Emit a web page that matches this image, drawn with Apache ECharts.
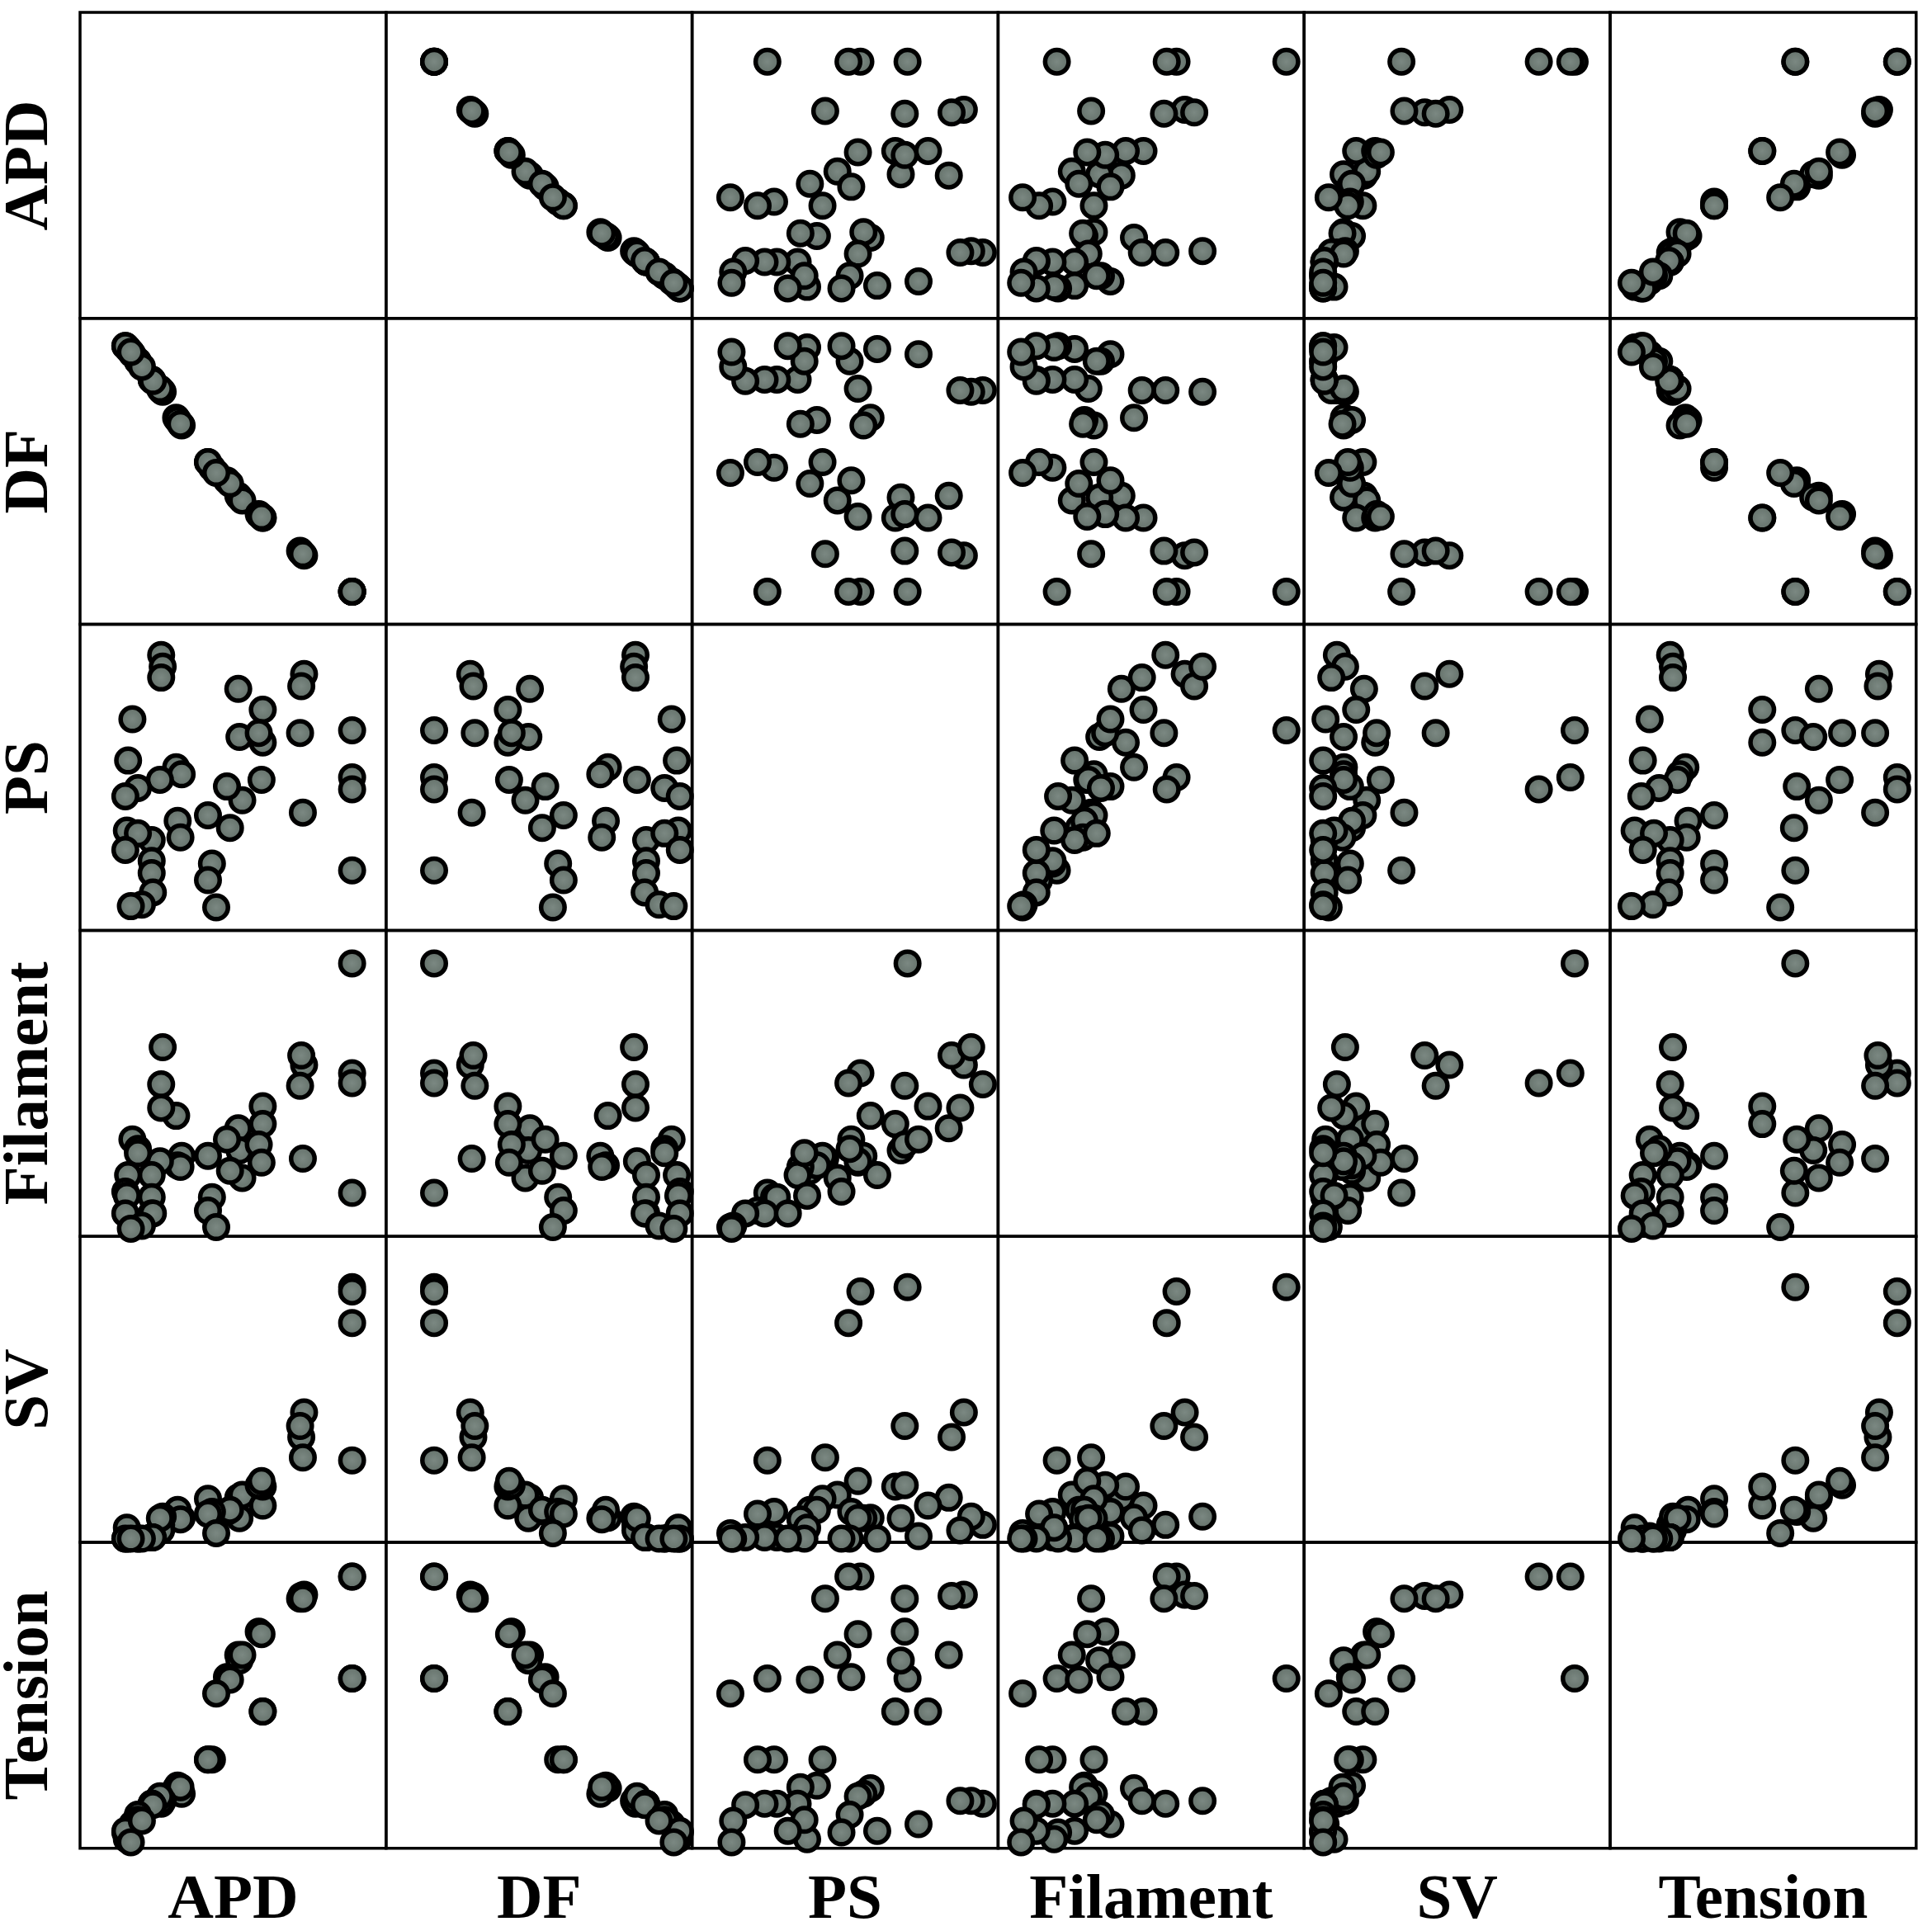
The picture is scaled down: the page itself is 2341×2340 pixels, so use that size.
<!DOCTYPE html>
<html>
<head>
<meta charset="utf-8">
<script src="https://cdn.jsdelivr.net/npm/echarts@6/dist/echarts.min.js"></script>
<style>
html,body{margin:0;padding:0;background:#fff;}
#chart{width:2341px;height:2340px;}
</style>
</head>
<body>
<div id="chart"></div>
<script>
// Variable names (row / column labels)
const variables = ['APD', 'DF', 'PS', 'Filament', 'SV', 'Tension'];

const APD = [0.839,0.839,0.839,0.839, 0.682,0.673,0.669,0.678, 0.467,0.471,0.480, 0.547,0.547,0.534,0.543, 0.430,0.440, 0.368,0.381,0.368,0.395, 0.264,0.282,0.269,0.278, 0.215,0.220,0.215,0.211, 0.184,0.184,0.184,0.188, 0.121,0.107,0.139,0.098,0.103,0.139,0.098,0.152,0.116];
const DF  = [0.107,0.107,0.107,0.107, 0.225,0.235,0.240,0.230, 0.420,0.415,0.405, 0.348,0.348,0.360,0.352, 0.470,0.460, 0.530,0.512,0.530,0.495, 0.675,0.650,0.668,0.655, 0.765,0.760,0.765,0.770, 0.800,0.800,0.800,0.795, 0.883,0.900,0.860,0.910,0.905,0.860,0.910,0.842,0.890];
const PS  = [0.654,0.500,0.461,0.196, 0.838,0.798,0.645,0.385, 0.789,0.632,0.425, 0.721,0.614,0.645,0.492, 0.470,0.335, 0.376,0.218,0.164,0.075, 0.533,0.510,0.358,0.304, 0.900,0.862,0.826,0.492, 0.295,0.227,0.187,0.124, 0.690,0.555,0.465,0.438,0.326,0.317,0.263,0.084,0.079];
const Filament = [0.892,0.533,0.501,0.142, 0.560,0.591,0.492,0.254, 0.353,0.281,0.191, 0.425,0.367,0.300,0.241, 0.317,0.214, 0.263,0.128,0.084,0.030, 0.394,0.263,0.232,0.227, 0.497,0.618,0.420,0.245, 0.200,0.128,0.075,0.075, 0.317,0.200,0.286,0.146,0.133,0.272,0.075,0.034,0.025];
const SV  = [0.834,0.820,0.717,0.268, 0.425,0.344,0.380,0.277, 0.146,0.079,0.155, 0.120,0.182,0.187,0.200, 0.100,0.106, 0.142,0.100,0.093,0.030, 0.080,0.079,0.106,0.075, 0.057,0.084,0.039,0.079, 0.016,0.016,0.016,0.016, 0.020,0.012,0.012,0.012,0.048,0.012,0.012,0.012,0.012];
const Tension = [0.555,0.888,0.888,0.555, 0.829,0.825,0.816,0.816, 0.632,0.614,0.632, 0.447,0.447,0.708,0.700, 0.560,0.551, 0.290,0.290,0.290,0.506, 0.196,0.178,0.205,0.200, 0.146,0.155,0.155,0.170, 0.146,0.146,0.146,0.142, 0.079,0.057,0.110,0.052,0.030,0.093,0.057,0.090,0.020];

const columns = [APD, DF, PS, Filament, SV, Tension];

const chart = echarts.init(document.getElementById('chart'), null, {renderer: 'canvas'});

const N = variables.length;
const left0 = 97, top0 = 15, cell = 370.8;
const grids = [], xAxes = [], yAxes = [], series = [], graphics = [];

const dotFill = {
  type: 'radial', x: 0.5, y: 0.5, r: 0.5,
  colorStops: [{offset: 0, color: '#7b8882'}, {offset: 1, color: '#606d66'}]
};

let gi = 0;
for (let r = 0; r < N; r++) {
  for (let c = 0; c < N; c++) {
    grids.push({
      left: left0 + c * cell, top: top0 + r * cell, width: cell, height: cell,
      show: true, borderColor: '#000', borderWidth: 3.5, backgroundColor: 'transparent'
    });
    const hidden = {show: true, axisLine: {show: false}, axisTick: {show: false}, axisLabel: {show: false}, splitLine: {show: false}};
    xAxes.push(Object.assign({type: 'value', gridIndex: gi, min: -0.05, max: 0.95}, hidden));
    yAxes.push(Object.assign({type: 'value', gridIndex: gi, min: 0, max: 1}, hidden));
    if (r !== c) {
      const xs = columns[c], ys = columns[r];
      const data = xs.map((v, i) => [v, ys[i]]);
      series.push({
        type: 'scatter', xAxisIndex: gi, yAxisIndex: gi, data: data,
        symbol: 'circle', symbolSize: 28.5, clip: false,
        itemStyle: {color: dotFill, borderColor: '#000', borderWidth: 5.5, opacity: 1},
        emphasis: {disabled: true}, silent: true, animation: false
      });
    }
    gi++;
  }
}

const labelFont = 'bold 77px "Liberation Serif", "DejaVu Serif", serif';
for (let k = 0; k < N; k++) {
  graphics.push({
    type: 'text', x: 37, y: top0 + k * cell + cell / 2, rotation: Math.PI / 2,
    style: {text: variables[k], font: labelFont, fill: '#000', textAlign: 'center', textVerticalAlign: 'middle'}
  });
  graphics.push({
    type: 'text', x: left0 + k * cell + cell / 2, y: 2304,
    style: {text: variables[k], font: labelFont, fill: '#000', textAlign: 'center', textVerticalAlign: 'middle'}
  });
}

chart.setOption({
  animation: false,
  backgroundColor: '#fff',
  grid: grids, xAxis: xAxes, yAxis: yAxes, series: series,
  graphic: graphics
});
</script>
</body>
</html>
